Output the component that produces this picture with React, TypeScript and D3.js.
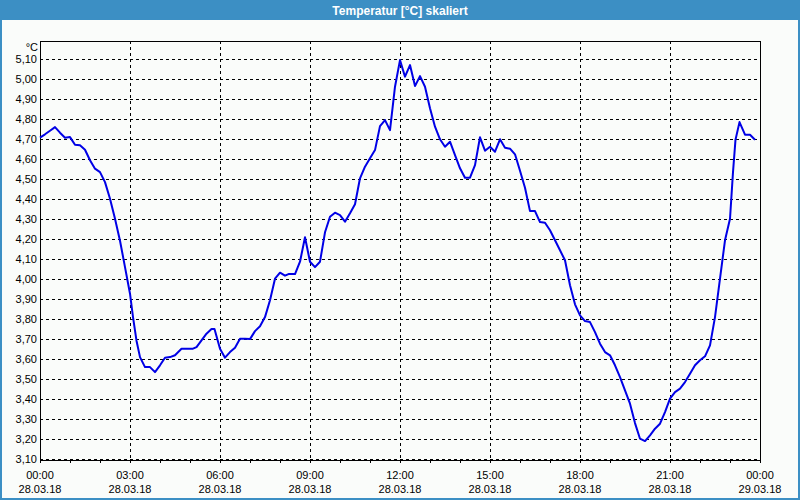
import React from "react";
import * as d3 from "d3";

const title = "Temperatur [°C] skaliert";
const unitLabel = "°C";
const minutes = [
  0, 10, 20, 30, 40, 50, 60, 70, 80, 90, 100, 110, 120, 130, 140, 150, 160, 170, 180, 186, 193,
  200, 210, 220, 230, 240, 250, 260, 270, 283, 306, 313, 323, 333, 343, 349, 360, 370, 380, 390,
  400, 410, 420, 430, 440, 450, 460, 470, 480, 490, 497, 510, 520, 530, 540, 550, 560, 570, 580,
  590, 600, 610, 620, 630, 640, 650, 660, 670, 680, 690, 700, 710, 720, 730, 740, 750, 760, 770,
  780, 790, 800, 810, 820, 830, 840, 850, 860, 870, 880, 890, 900, 910, 920, 930, 940, 950, 960,
  970, 980, 990, 1000, 1010, 1020, 1030, 1040, 1050, 1060, 1070, 1080, 1090, 1100, 1110, 1120,
  1130, 1140, 1150, 1160, 1170, 1180, 1190, 1200, 1210, 1220, 1230, 1240, 1250, 1260, 1270, 1280,
  1290, 1300, 1310, 1320, 1330, 1340, 1350, 1360, 1370, 1380, 1386, 1391, 1399, 1410, 1420, 1430,
];
const temps = [
  4.705, 4.722, 4.74, 4.758, 4.73, 4.705, 4.708, 4.67, 4.667, 4.645, 4.592, 4.55, 4.533, 4.483,
  4.4, 4.3, 4.19, 4.058, 3.925, 3.808, 3.69, 3.608, 3.558, 3.558, 3.533, 3.567, 3.605, 3.608,
  3.617, 3.65, 3.65, 3.658, 3.692, 3.725, 3.748, 3.748, 3.65, 3.605, 3.633, 3.655, 3.7, 3.7, 3.698,
  3.738, 3.762, 3.808, 3.892, 4.0, 4.03, 4.015, 4.023, 4.023, 4.085, 4.207, 4.085, 4.058, 4.085,
  4.232, 4.31, 4.33, 4.318, 4.285, 4.327, 4.372, 4.502, 4.56, 4.602, 4.643, 4.763, 4.793, 4.743,
  4.96, 5.093, 5.01, 5.068, 4.963, 5.013, 4.96, 4.852, 4.76, 4.697, 4.66, 4.685, 4.618, 4.552,
  4.505, 4.505, 4.568, 4.707, 4.64, 4.66, 4.635, 4.697, 4.655, 4.65, 4.622, 4.54, 4.455, 4.338,
  4.338, 4.283, 4.28, 4.242, 4.192, 4.142, 4.092, 3.967, 3.872, 3.817, 3.788, 3.783, 3.733, 3.675,
  3.633, 3.617, 3.567, 3.508, 3.442, 3.375, 3.278, 3.2, 3.188, 3.217, 3.25, 3.275, 3.333, 3.4,
  3.433, 3.45, 3.483, 3.525, 3.567, 3.592, 3.612, 3.667, 3.808, 4.0, 4.192, 4.3, 4.533, 4.695,
  4.783, 4.72, 4.72, 4.695,
];
const yTicks = [3.1, 3.2, 3.3, 3.4, 3.5, 3.6, 3.7, 3.8, 3.9, 4.0, 4.1, 4.2, 4.3, 4.4, 4.5, 4.6, 4.7, 4.8, 4.9, 5.0, 5.1];
const xTickHours = [0, 3, 6, 9, 12, 15, 18, 21, 24];
const xTimeLabels = ["00:00", "03:00", "06:00", "09:00", "12:00", "15:00", "18:00", "21:00", "00:00"];
const xDateLabels = ["28.03.18", "28.03.18", "28.03.18", "28.03.18", "28.03.18", "28.03.18", "28.03.18", "28.03.18", "29.03.18"];
const minorHours = d3.range(0, 25);

const W = 800;
const H = 500;
const L = 40, R = 760, T = 41, B = 460;
const FONT = "'Liberation Sans', Arial, sans-serif";

export default function App() {
  const x = d3.scaleLinear().domain([0, 24]).range([L, R]);
  const y = d3.scaleLinear().domain([3.1, 5.1]).range([458.7, 58.7]);
  const line = d3
    .line<number>()
    .x((_, i) => x(minutes[i] / 60))
    .y((d) => y(d));
  const path = line(temps) || "";
  const fmt = (v: number) => v.toFixed(2).replace(".", ",");

  return (
    <svg
      width={W}
      height={H}
      style={{ position: "absolute", left: 0, top: 0, display: "block" }}
      xmlns="http://www.w3.org/2000/svg"
    >
      <rect x={0} y={0} width={W} height={H} fill="#3c8fc4" />
      <rect x={2} y={20} width={W - 4} height={H - 22} fill="#fafcfa" />
      <text x={400} y={15} textAnchor="middle" fill="#ffffff" fontFamily={FONT} fontWeight="bold" fontSize={12}>
        {title}
      </text>

      <g shapeRendering="crispEdges">
        {yTicks.map((t) => (
          <line
            key={"h" + t}
            x1={L}
            x2={R}
            y1={Math.round(y(t)) + 0.5}
            y2={Math.round(y(t)) + 0.5}
            stroke="#000"
            strokeWidth={1}
            strokeDasharray="3,3"
          />
        ))}
        {xTickHours.slice(1, -1).map((h) => (
          <line
            key={"v" + h}
            x1={Math.round(x(h)) + 0.5}
            x2={Math.round(x(h)) + 0.5}
            y1={T}
            y2={B}
            stroke="#000"
            strokeWidth={1}
            strokeDasharray="3,3"
          />
        ))}
        {minorHours.map((h) => (
          <line
            key={"m" + h}
            x1={Math.round(x(h)) + 0.5}
            x2={Math.round(x(h)) + 0.5}
            y1={B}
            y2={B + 3}
            stroke="#000"
            strokeWidth={1}
          />
        ))}
        <rect x={L + 0.5} y={T + 0.5} width={R - L} height={B - T} fill="none" stroke="#000" strokeWidth={1} />
      </g>

      <path d={path} fill="none" stroke="#0000e6" strokeWidth={2} strokeLinejoin="round" />

      <g fontFamily={FONT} fontSize={11} fill="#000">
        <text x={38} y={51} textAnchor="end">
          {unitLabel}
        </text>
        {yTicks.map((t) => (
          <text key={"yl" + t} x={37} y={y(t) + 4} textAnchor="end">
            {fmt(t)}
          </text>
        ))}
        {xTickHours.map((h, i) => (
          <g key={"xl" + h}>
            <text x={x(h)} y={479} textAnchor="middle">
              {xTimeLabels[i]}
            </text>
            <text x={x(h)} y={493} textAnchor="middle">
              {xDateLabels[i]}
            </text>
          </g>
        ))}
      </g>
    </svg>
  );
}
